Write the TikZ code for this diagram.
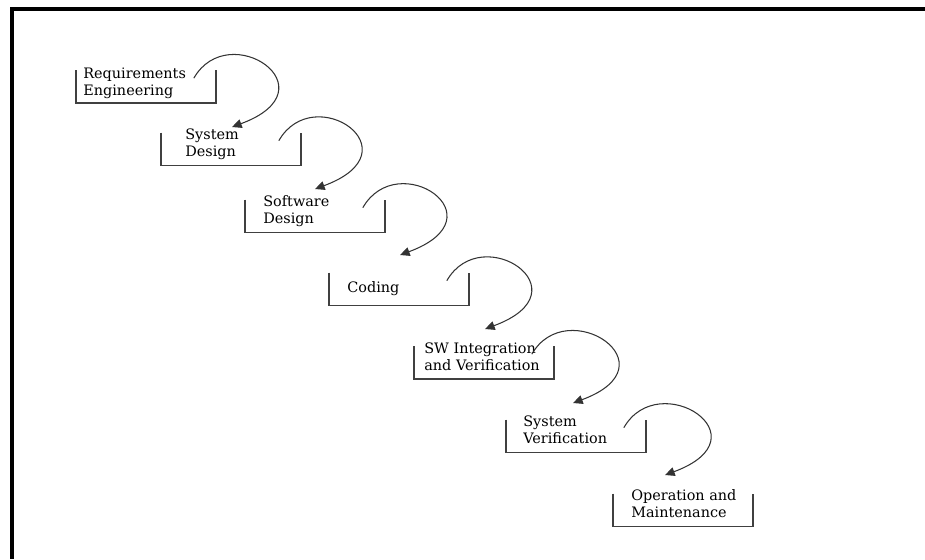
\documentclass[tikz,border=0pt]{standalone}
\usepackage{fontspec}
\setmainfont{DejaVu Serif}
\usetikzlibrary{arrows.meta}

\begin{document}
\begin{tikzpicture}[x=0.02cm,y=-0.02cm,
  stage/.style={minimum width=2.78cm,minimum height=0.64cm,inner sep=0pt},
  stagetext/.style={anchor=base west,align=left,inner sep=0pt,font=\fontsize{8.2}{9.6}\selectfont},
  bracket/.style={draw=black!75,line width=0.9pt},
  flow/.style={draw=black!80,line width=0.6pt,-{Triangle[length=5.5pt,width=5pt]}}]
\useasboundingbox (0,0) rectangle (925,559);
\draw[line width=2.3pt] (925,9) -- (12,9) -- (12,559);

%stage brackets
\node[stage] (s1) at (146,86.5) {};
\node[stage] (s2) at (231,149) {};
\node[stage] (s3) at (315,216) {};
\node[stage] (s4) at (399,289) {};
\node[stage] (s5) at (484,362.5) {};
\node[stage] (s6) at (576,436) {};
\node[stage] (s7) at (683,510) {};
\foreach \s in {s1,s2,s3,s4,s5,s6,s7}
  \draw[bracket] (\s.north west) -- (\s.south west) -- (\s.south east) -- (\s.north east);

%stage names (base = last line)
\node[stagetext] (req) at (83,95) {Requirements\\Engineering};
\node[stagetext] (sysdes) at (185,156) {System\\Design};
\node[stagetext] (swdes) at (263,223) {Software\\Design};
\node[stagetext] (coding) at (347,292) {Coding};
\node[stagetext] (swint) at (424,370) {SW Integration\\and Verification};
\node[stagetext] (sysver) at (523,443) {System\\Verification};
\node[stagetext] (opmain) at (631,517) {Operation and\\Maintenance};

%arrow tips
\coordinate (in2) at (232,127);
\coordinate (in3) at (315,189);
\coordinate (in4) at (400,255);
\coordinate (in5) at (485,329);
\coordinate (in6) at (573,403);
\coordinate (in7) at (665,475);

%transitions
\foreach \a/\b in {1/2,2/3,3/4,4/5,5/6,6/7}
  \draw[flow] ([shift={(-22,8)}]s\a.north east) .. controls +(35,-61) and +(103,-38) .. (in\b);
\end{tikzpicture}
\end{document}
